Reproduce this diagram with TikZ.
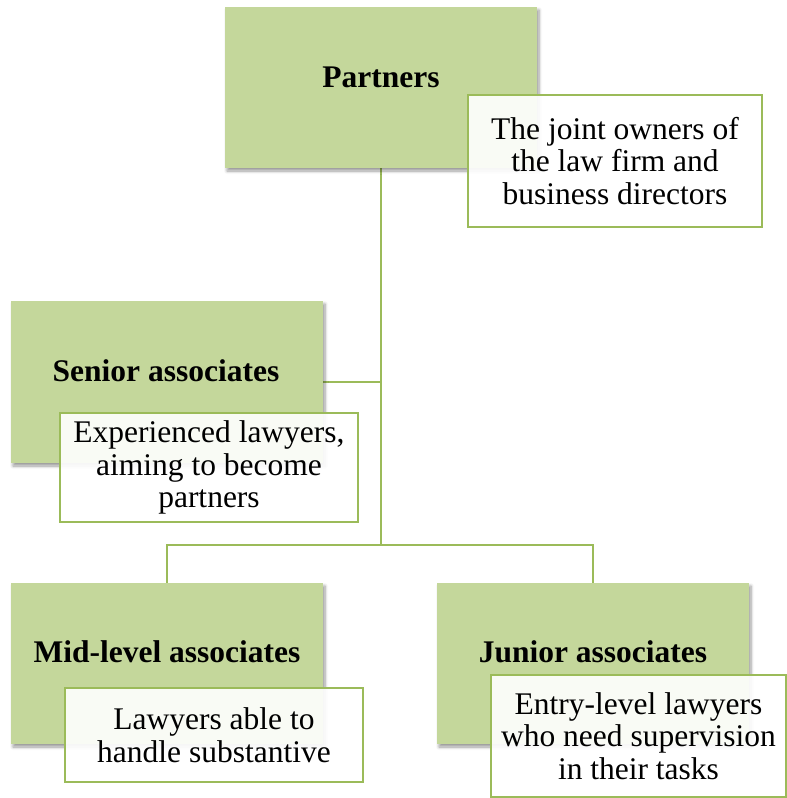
\documentclass[tikz,border=0pt]{standalone}
\usepackage{fontspec}
\setmainfont{Liberation Serif}
\usetikzlibrary{shadows.blur}

\pgfdeclarelayer{background}
\pgfsetlayers{background,main}

\definecolor{levelfill}{HTML}{C4D79B}
\definecolor{levelline}{HTML}{9BBB59}

\tikzset{
  levelbox/.style={rectangle, fill=levelfill, inner sep=0pt,
    minimum width=312pt, minimum height=161pt,
    blur shadow={shadow xshift=2pt, shadow yshift=-3pt, shadow blur steps=6,
      shadow blur radius=3pt, shadow opacity=40}},
  leveltitle/.style={anchor=base, inner sep=0pt,
    font=\fontsize{31.5}{33}\selectfont\bfseries},
  notebox/.style={rectangle, draw=levelline, line width=2pt,
    fill=white, fill opacity=0.9, text opacity=1, inner sep=0pt,
    align=center, font=\fontsize{31.5}{32.5}\selectfont},
  conn/.style={draw=levelline, line width=2pt}
}

\begin{document}
\begin{tikzpicture}[x=1pt, y=-1pt]
\useasboundingbox (0,0) rectangle (787,798);

% level boxes
\node[levelbox] (p) at (381,87.5) {};
\node[levelbox, minimum height=162pt] (s) at (167,382) {};
\node[levelbox] (m) at (167,663.5) {};
\node[levelbox] (j) at (593,663.5) {};

% connectors of the hierarchy, kept behind the boxes
\begin{pgfonlayer}{background}
\coordinate (hub) at (381,545);
\draw[conn] (p.south) -- (hub);
\draw[conn] (s.east) -- (s.east -| p.south);
\draw[conn] (m.north) |- (hub) -| (j.north);
\end{pgfonlayer}

% level titles
\node[leveltitle] (pt) at (381,87) {Partners};
\node[leveltitle] (st) at (166,381) {Senior associates};
\node[leveltitle] (mt) at (167,662) {Mid-level associates};
\node[leveltitle] (jt) at (593,662) {Junior associates};

% descriptions
\node[notebox, minimum width=294pt, minimum height=132pt] (pd) at (615,161)
  {The joint owners of\\the law firm and\\business directors};
\node[notebox, minimum width=298pt, minimum height=109pt] (sd) at (209,467.5)
  {Experienced lawyers,\\aiming to become\\partners};
\node[notebox, minimum width=298pt, minimum height=94pt] (md) at (214,735)
  {Lawyers able to\\handle substantive};
\node[notebox, minimum width=295pt, minimum height=122pt] (jd) at (638.5,736)
  {Entry-level lawyers\\who need supervision\\in their tasks};
\end{tikzpicture}
\end{document}
